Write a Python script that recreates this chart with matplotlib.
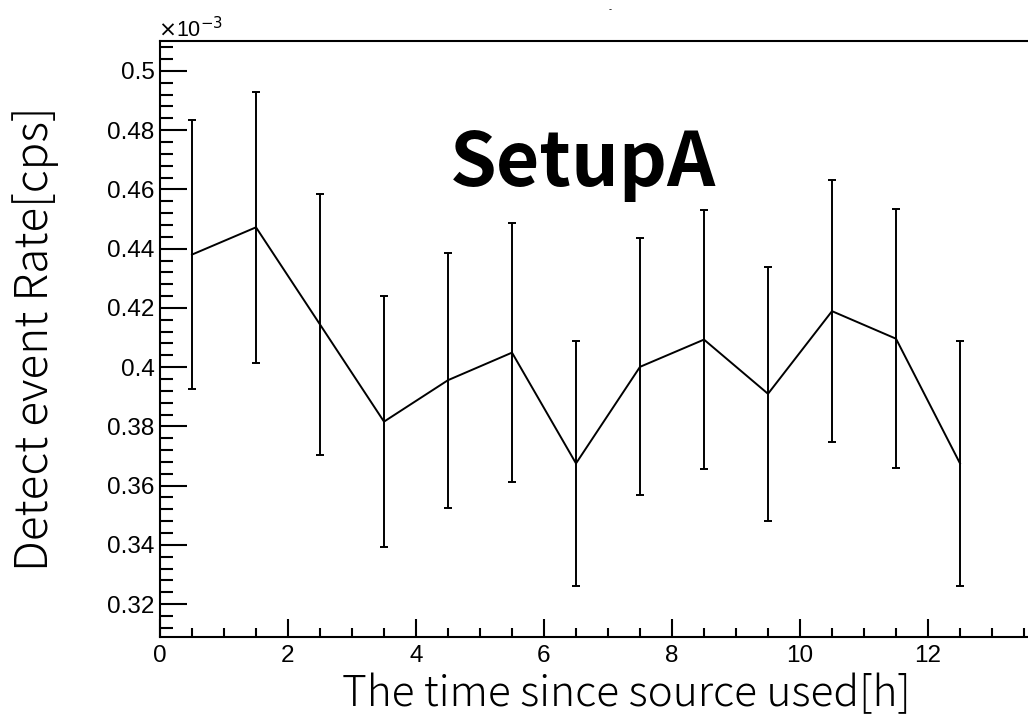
import matplotlib
matplotlib.use('Agg')
import matplotlib.pyplot as plt
from matplotlib.ticker import MultipleLocator, FixedLocator, FuncFormatter

# time bins [h] and detected rate [1e-3 cps]
hours = [0.5, 1.5, 2.5, 3.5, 4.5, 5.5, 6.5, 7.5, 8.5, 9.5, 10.5, 11.5, 12.5]
rate = [0.4380, 0.4472, 0.4144, 0.3816, 0.3956, 0.4049, 0.3675,
        0.4001, 0.4093, 0.3910, 0.4189, 0.4096, 0.3675]
rate_err = [0.0453, 0.0458, 0.0442, 0.0423, 0.0431, 0.0437, 0.0414,
            0.0434, 0.0438, 0.0428, 0.0443, 0.0438, 0.0414]
x_major = [0, 2, 4, 6, 8, 10, 12]

W, H = 1028, 719
fig = plt.figure(figsize=(W / 100, H / 100), dpi=100)
# axes run past the right edge of the canvas, like the original pad
ax = fig.add_axes([160 / W, 1 - 637 / H, 896 / W, (637 - 41) / H])

ax.errorbar(hours, rate, yerr=rate_err, fmt='-', color='black', lw=1.4,
            elinewidth=1.4, capsize=3, capthick=1.4)

ax.set_xlim(0, 14)
ax.set_ylim(0.3089, 0.5101)

ax.xaxis.set_major_locator(FixedLocator(x_major))
ax.xaxis.set_minor_locator(MultipleLocator(0.5))
ax.yaxis.set_major_locator(MultipleLocator(0.02))
ax.yaxis.set_minor_locator(MultipleLocator(0.004))
ax.yaxis.set_major_formatter(FuncFormatter(lambda v, p: f'{v:g}'))

ax.tick_params(axis='both', which='both', direction='in', width=1.5,
               labelsize=17.5, colors='black')
ax.tick_params(axis='y', which='major', length=19.5, pad=4)
ax.tick_params(axis='y', which='minor', length=9.5)
ax.tick_params(axis='x', which='major', length=13, pad=6)
ax.tick_params(axis='x', which='minor', length=6.5)
for lab in ax.get_xticklabels() + ax.get_yticklabels():
    lab.set_family('Liberation Sans')
for s in ax.spines.values():
    s.set_linewidth(1.5)

fig.text(158 / W, 1 - 37 / H, r'$\times$10$^{-3}$', fontsize=15.5,
         family='Liberation Sans', ha='left', va='baseline')
fig.text(610 / W, 1 - 10 / H, '-', fontsize=6, ha='center', va='center')

fig.text(626 / W, 1 - 706 / H, 'The time since source used[h]',
         fontsize=30.5, fontweight='light',
         family=['Noto Sans CJK JP', 'DejaVu Sans'],
         ha='center', va='baseline')
fig.text(35 / W, 1 - 339 / H, 'Detect event Rate[cps]', rotation=90,
         fontsize=33, fontweight='light',
         family=['Noto Sans CJK JP', 'DejaVu Sans'],
         ha='center', va='center')
fig.text(583 / W, 1 - 164 / H, 'SetupA', fontsize=54, fontweight='bold',
         family=['Noto Sans CJK JP', 'DejaVu Sans'], ha='center', va='center')

fig.savefig('out.png', dpi=100)
